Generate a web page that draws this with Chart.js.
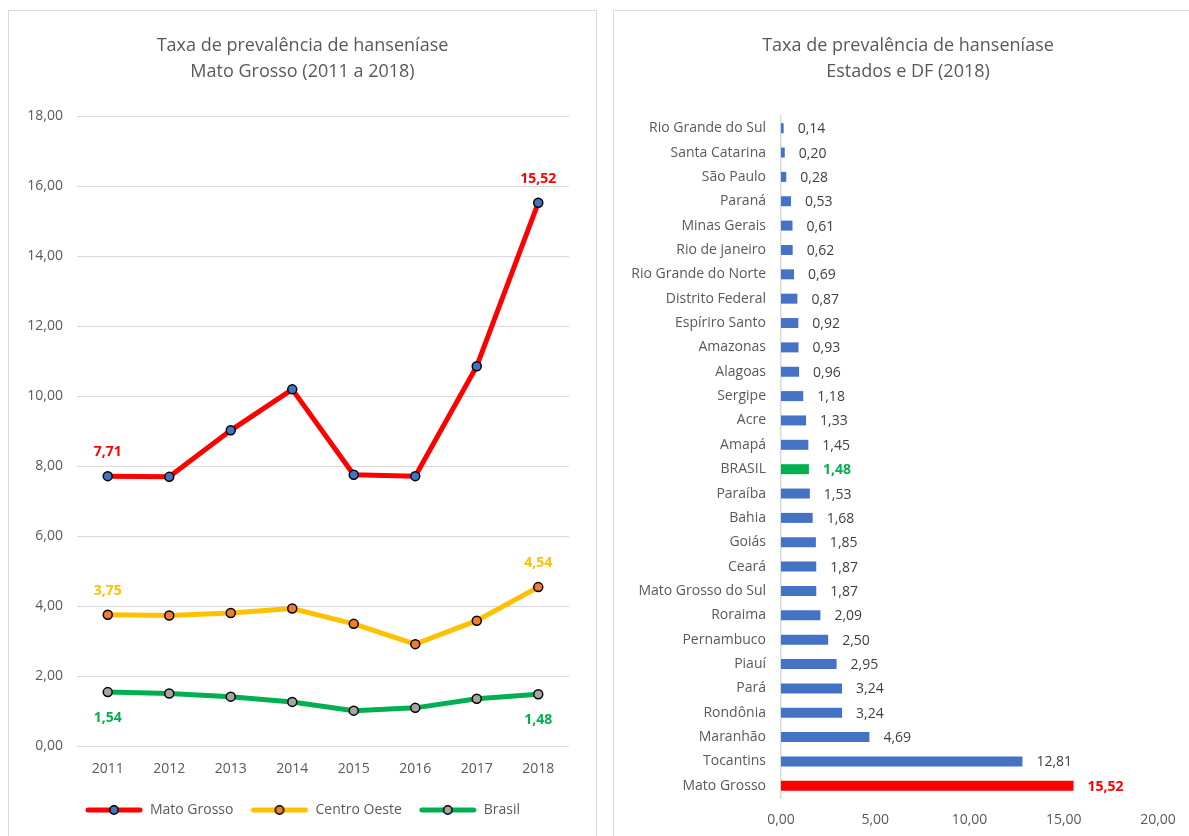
<!DOCTYPE html>
<html>
<head>
<meta charset="utf-8">
<script src="https://cdn.jsdelivr.net/npm/chart.js@4.4.0/dist/chart.umd.min.js"></script>
<style>
  html, body { margin: 0; padding: 0; background: #fff; width: 1189px; height: 836px; overflow: hidden; }
  .panel { position: absolute; border: 1px solid #d9d9d9; box-sizing: border-box; }
  #panelLine { left: 8px; top: 10px; width: 589px; height: 900px; }
  #panelBar { left: 613px; top: 10px; width: 620px; height: 900px; }
  canvas { position: absolute; top: 0; }
  #lineChart { left: 0; }
  #barChart { left: 605px; }
</style>
</head>
<body>
<div class="panel" id="panelLine"></div>
<div class="panel" id="panelBar"></div>
<canvas id="lineChart" width="600" height="836"></canvas>
<canvas id="barChart" width="600" height="836"></canvas>
<script>
// ---- Prevalence rate, Mato Grosso / Centro-Oeste / Brasil, 2011-2018 ----
const years = ['2011', '2012', '2013', '2014', '2015', '2016', '2017', '2018'];
const matoGrosso  = [7.71, 7.69, 9.02, 10.19, 7.75, 7.71, 10.85, 15.52];
const centroOeste = [3.75, 3.73, 3.80, 3.93, 3.49, 2.91, 3.58, 4.54];
const brasil      = [1.54, 1.50, 1.41, 1.26, 1.01, 1.09, 1.35, 1.48];
const lineTicks   = [0, 2, 4, 6, 8, 10, 12, 14, 16, 18];

// ---- Prevalence rate by state and DF, 2018 ----
const states = ['Rio Grande do Sul', 'Santa Catarina', 'São Paulo', 'Paraná', 'Minas Gerais',
  'Rio de janeiro', 'Rio Grande do Norte', 'Distrito Federal', 'Espíriro Santo', 'Amazonas',
  'Alagoas', 'Sergipe', 'Acre', 'Amapá', 'BRASIL', 'Paraíba', 'Bahia', 'Goiás', 'Ceará',
  'Mato Grosso do Sul', 'Roraima', 'Pernambuco', 'Piauí', 'Pará', 'Rondônia', 'Maranhão',
  'Tocantins', 'Mato Grosso'];
const stateRates = [0.14, 0.20, 0.28, 0.53, 0.61, 0.62, 0.69, 0.87, 0.92, 0.93, 0.96, 1.18,
  1.33, 1.45, 1.48, 1.53, 1.68, 1.85, 1.87, 1.87, 2.09, 2.50, 2.95, 3.24, 3.24, 4.69, 12.81, 15.52];
const barTicks = [0, 5, 10, 15, 20];

const FONT = '"Open Sans", "DejaVu Sans", sans-serif';
const GREY = '#595959';
const fmt = v => v.toFixed(2).replace('.', ',');

// empty right-hand axis: reserves a margin so the title stays centred on the panel
const spacerAxis = width => ({
  type: 'linear', position: 'right', display: true,
  grid: { display: false, drawTicks: false },
  border: { display: false },
  ticks: { display: false },
  afterFit: s => { s.width = width; }
});

// line + marker swatch used as the legend symbol
function legendSwatch(lineColor, markerColor) {
  const c = document.createElement('canvas');
  c.width = 58; c.height = 12;
  const g = c.getContext('2d');
  g.strokeStyle = lineColor; g.lineWidth = 5; g.lineCap = 'round';
  g.beginPath(); g.moveTo(3, 6); g.lineTo(55, 6); g.stroke();
  g.beginPath(); g.arc(29, 6, 4.2, 0, Math.PI * 2);
  g.fillStyle = markerColor; g.fill();
  g.lineWidth = 1.5; g.strokeStyle = '#000'; g.stroke();
  return c;
}

// value labels on the first and last point of every series
const pointLabels = {
  id: 'pointLabels',
  afterDatasetsDraw(chart) {
    const ctx = chart.ctx;
    chart.data.datasets.forEach((ds, di) => {
      const meta = chart.getDatasetMeta(di);
      ds.labelIndexes.forEach(i => {
        const p = meta.data[i];
        ctx.save();
        ctx.font = 'bold 14px ' + FONT;
        ctx.fillStyle = ds.labelColor;
        ctx.textAlign = 'center';
        ctx.textBaseline = 'middle';
        ctx.fillText(fmt(ds.data[i]), p.x, p.y + ds.labelOffset);
        ctx.restore();
      });
    });
  }
};

function series(label, data, lineColor, markerColor, labelOffset) {
  return {
    label, data, yAxisID: 'y',
    borderColor: lineColor, borderWidth: 5, tension: 0,
    pointRadius: 4.5, pointHoverRadius: 4.5,
    pointBackgroundColor: markerColor, pointBorderColor: '#000', pointBorderWidth: 1.5,
    swatch: legendSwatch(lineColor, markerColor),
    labelIndexes: [0, data.length - 1], labelColor: lineColor, labelOffset
  };
}

new Chart(document.getElementById('lineChart'), {
  type: 'line',
  data: {
    labels: years,
    datasets: [
      series('Mato Grosso', matoGrosso, '#ff0000', '#4472c4', -24),
      series('Centro Oeste', centroOeste, '#ffc000', '#ed7d31', -24),
      series('Brasil', brasil, '#00b050', '#a5a5a5', 26)
    ]
  },
  options: {
    responsive: false,
    animation: false,
    layout: { padding: { left: 22, right: 17, top: 0, bottom: 9 } },
    scales: {
      x: {
        offset: true,
        grid: { display: false, drawTicks: false },
        border: { display: false },
        ticks: { color: GREY, font: { family: FONT, size: 14 }, padding: 15 },
        afterFit: s => { s.height = 40; }
      },
      y: {
        position: 'left',
        min: lineTicks[0], max: lineTicks[lineTicks.length - 1],
        afterBuildTicks: s => { s.ticks = lineTicks.map(v => ({ value: v })); },
        grid: { color: '#d9d9d9', lineWidth: 1, drawTicks: false },
        border: { display: false },
        ticks: { color: GREY, font: { family: FONT, size: 14 }, padding: 14, callback: v => fmt(v) },
        afterFit: s => { s.width = 55; }
      },
      spacer: spacerAxis(14)
    },
    plugins: {
      title: {
        display: true,
        text: ['Taxa de prevalência de hanseníase', 'Mato Grosso (2011 a 2018)'],
        color: GREY,
        font: { family: FONT, size: 18, weight: 'normal', lineHeight: '26px' },
        padding: { top: 33, bottom: 31 }
      },
      legend: {
        position: 'bottom',
        labels: {
          usePointStyle: true,
          pointStyleWidth: 58,
          padding: 17,
          color: GREY,
          font: { family: FONT, size: 14 },
          generateLabels: chart => chart.data.datasets.map((ds, i) => ({
            text: ds.label, pointStyle: ds.swatch, datasetIndex: i,
            fontColor: GREY, hidden: false, lineWidth: 0
          }))
        }
      },
      tooltip: { enabled: false }
    }
  },
  plugins: [pointLabels]
});

// ---- horizontal bars ----
const barColor = name => name === 'BRASIL' ? '#00b050' : (name === 'Mato Grosso' ? '#ff0000' : '#4472c4');
const valueColor = name => name === 'BRASIL' ? '#00b050' : (name === 'Mato Grosso' ? '#ff0000' : '#404040');
const isHighlight = name => name === 'BRASIL' || name === 'Mato Grosso';

const barLabels = {
  id: 'barLabels',
  afterDatasetsDraw(chart) {
    const ctx = chart.ctx;
    const meta = chart.getDatasetMeta(0);
    const ds = chart.data.datasets[0];
    meta.data.forEach((bar, i) => {
      const name = chart.data.labels[i];
      ctx.save();
      ctx.font = (isHighlight(name) ? 'bold ' : '') + '14px ' + FONT;
      ctx.fillStyle = valueColor(name);
      ctx.textAlign = 'left';
      ctx.textBaseline = 'middle';
      ctx.fillText(fmt(ds.data[i]), bar.x + 14, bar.y + 1);
      ctx.restore();
    });
  }
};

new Chart(document.getElementById('barChart'), {
  type: 'bar',
  data: {
    labels: states,
    datasets: [{
      label: 'Taxa de prevalência',
      data: stateRates,
      xAxisID: 'x', yAxisID: 'y',
      backgroundColor: states.map(barColor),
      categoryPercentage: 1,
      barPercentage: 0.41
    }]
  },
  options: {
    indexAxis: 'y',
    responsive: false,
    animation: false,
    layout: { padding: { left: 15, right: 9, top: 0, bottom: 0 } },
    scales: {
      x: {
        min: barTicks[0], max: barTicks[barTicks.length - 1],
        afterBuildTicks: s => { s.ticks = barTicks.map(v => ({ value: v })); },
        grid: { display: false, drawTicks: false },
        border: { display: false },
        ticks: { color: GREY, font: { family: FONT, size: 14 }, padding: 14, callback: v => fmt(v) },
        afterFit: s => { s.height = 38; }
      },
      y: {
        position: 'left',
        grid: { display: false, drawTicks: false },
        border: { display: true, color: '#d9d9d9', width: 1.5 },
        ticks: { color: GREY, font: { family: FONT, size: 14 }, padding: 15, autoSkip: false },
        afterFit: s => { s.width = 161; }
      },
      spacer: spacerAxis(38)
    },
    plugins: {
      title: {
        display: true,
        text: ['Taxa de prevalência de hanseníase', 'Estados e DF (2018)'],
        color: GREY,
        font: { family: FONT, size: 18, weight: 'normal', lineHeight: '26px' },
        padding: { top: 33, bottom: 31 }
      },
      legend: { display: false },
      tooltip: { enabled: false }
    }
  },
  plugins: [barLabels]
});
</script>
</body>
</html>
